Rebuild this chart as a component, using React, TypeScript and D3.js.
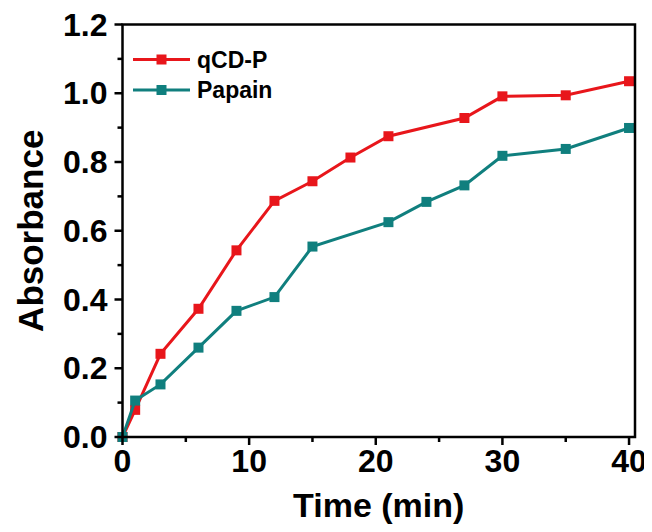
import React, { useEffect, useRef } from "react";
import * as d3 from "d3";

// time points (min) and absorbance readings
const timeRed = [0, 1, 3, 6, 9, 12, 15, 18, 21, 27, 30, 35, 40];
const qcdp = [0, 0.079, 0.242, 0.373, 0.543, 0.687, 0.744, 0.813, 0.875, 0.928, 0.991, 0.994, 1.035];

const timeTeal = [0, 1, 3, 6, 9, 12, 15, 21, 24, 27, 30, 35, 40];
const papain = [0, 0.106, 0.153, 0.26, 0.367, 0.407, 0.554, 0.625, 0.684, 0.732, 0.818, 0.838, 0.899];

const xTicks = [0, 10, 20, 30, 40];
const xMinor = [5, 15, 25, 35];
const yTicks = [0, 0.2, 0.4, 0.6, 0.8, 1.0, 1.2];
const yMinor = [0.1, 0.3, 0.5, 0.7, 0.9, 1.1];

const seriesNames = ["qCD-P", "Papain"];
const colors = ["#e8161b", "#107f7e"];

const W = 652;
const H = 532;
const FONT = "'Liberation Sans', Arial, sans-serif";

const Chart = () => {
  const ref = useRef<SVGSVGElement>(null);

  useEffect(() => {
    const svg = d3.select(ref.current);
    svg.selectAll("*").remove();

    const x = d3.scaleLinear().domain([0, 40.47]).range([122.5, 635]);
    const y = d3.scaleLinear().domain([0, 1.2]).range([437, 24.5]);

    const series = [
      { name: seriesNames[0], t: timeRed, v: qcdp, color: colors[0] },
      { name: seriesNames[1], t: timeTeal, v: papain, color: colors[1] },
    ];

    // lines + square markers
    const line = d3
      .line<[number, number]>()
      .x((d) => x(d[0]))
      .y((d) => y(d[1]));

    series.forEach((s) => {
      const pts: [number, number][] = s.t.map((t, i) => [t, s.v[i]]);
      svg
        .append("path")
        .attr("d", line(pts))
        .attr("fill", "none")
        .attr("stroke", s.color)
        .attr("stroke-width", 3);
      svg
        .append("g")
        .selectAll("rect")
        .data(pts)
        .enter()
        .append("rect")
        .attr("x", (d) => x(d[0]) - 5)
        .attr("y", (d) => y(d[1]) - 5)
        .attr("width", 10)
        .attr("height", 10)
        .attr("fill", s.color);
    });

    // frame
    const [x0, x1] = x.range();
    const [y0, y1] = y.range();
    svg
      .append("rect")
      .attr("x", x0)
      .attr("y", y1)
      .attr("width", x1 - x0)
      .attr("height", y0 - y1)
      .attr("fill", "none")
      .attr("stroke", "#000")
      .attr("stroke-width", 2.5);

    // x axis ticks
    const xAxis = svg.append("g").attr("transform", `translate(0,${y0})`);
    xAxis
      .selectAll("line.major")
      .data(xTicks)
      .enter()
      .append("line")
      .attr("x1", (d) => x(d))
      .attr("x2", (d) => x(d))
      .attr("y1", 0)
      .attr("y2", 8)
      .attr("stroke", "#000")
      .attr("stroke-width", 2.5);
    xAxis
      .selectAll("line.minor")
      .data(xMinor)
      .enter()
      .append("line")
      .attr("x1", (d) => x(d))
      .attr("x2", (d) => x(d))
      .attr("y1", 0)
      .attr("y2", 5)
      .attr("stroke", "#000")
      .attr("stroke-width", 2.5);
    xAxis
      .selectAll("text")
      .data(xTicks)
      .enter()
      .append("text")
      .attr("x", (d) => x(d))
      .attr("y", 35)
      .attr("text-anchor", "middle")
      .attr("font-family", FONT)
      .attr("font-weight", "bold")
      .attr("font-size", 32)
      .text((d) => d3.format("d")(d));

    // y axis ticks
    const yAxis = svg.append("g").attr("transform", `translate(${x0},0)`);
    yAxis
      .selectAll("line.major")
      .data(yTicks)
      .enter()
      .append("line")
      .attr("x1", 0)
      .attr("x2", -8)
      .attr("y1", (d) => y(d))
      .attr("y2", (d) => y(d))
      .attr("stroke", "#000")
      .attr("stroke-width", 2.5);
    yAxis
      .selectAll("line.minor")
      .data(yMinor)
      .enter()
      .append("line")
      .attr("x1", 0)
      .attr("x2", -5)
      .attr("y1", (d) => y(d))
      .attr("y2", (d) => y(d))
      .attr("stroke", "#000")
      .attr("stroke-width", 2.5);
    yAxis
      .selectAll("text")
      .data(yTicks)
      .enter()
      .append("text")
      .attr("x", -15)
      .attr("y", (d) => y(d) + 11)
      .attr("text-anchor", "end")
      .attr("font-family", FONT)
      .attr("font-weight", "bold")
      .attr("font-size", 32)
      .text((d) => d3.format(".1f")(d));

    // axis titles
    svg
      .append("text")
      .attr("x", (x0 + x1) / 2)
      .attr("y", 517)
      .attr("text-anchor", "middle")
      .attr("font-family", FONT)
      .attr("font-weight", "bold")
      .attr("font-size", 34)
      .text("Time (min)");
    svg
      .append("text")
      .attr("transform", `translate(43,${(y0 + y1) / 2}) rotate(-90)`)
      .attr("text-anchor", "middle")
      .attr("font-family", FONT)
      .attr("font-weight", "bold")
      .attr("font-size", 35)
      .text("Absorbance");

    // legend
    const legend = svg.append("g");
    series.forEach((s, i) => {
      const ly = 59.5 + i * 30.5;
      legend
        .append("line")
        .attr("x1", 133)
        .attr("x2", 190)
        .attr("y1", ly)
        .attr("y2", ly)
        .attr("stroke", s.color)
        .attr("stroke-width", 3);
      legend
        .append("rect")
        .attr("x", 161.5 - 5)
        .attr("y", ly - 5)
        .attr("width", 10)
        .attr("height", 10)
        .attr("fill", s.color);
      legend
        .append("text")
        .attr("x", 197)
        .attr("y", ly + 8)
        .attr("font-family", FONT)
        .attr("font-weight", "bold")
        .attr("font-size", 23)
        .text(s.name);
    });
  }, []);

  return <svg ref={ref} width={W} height={H} style={{ display: "block" }} />;
};

export default function App() {
  return (
    <div style={{ margin: -8 }}>
      <Chart />
    </div>
  );
}
